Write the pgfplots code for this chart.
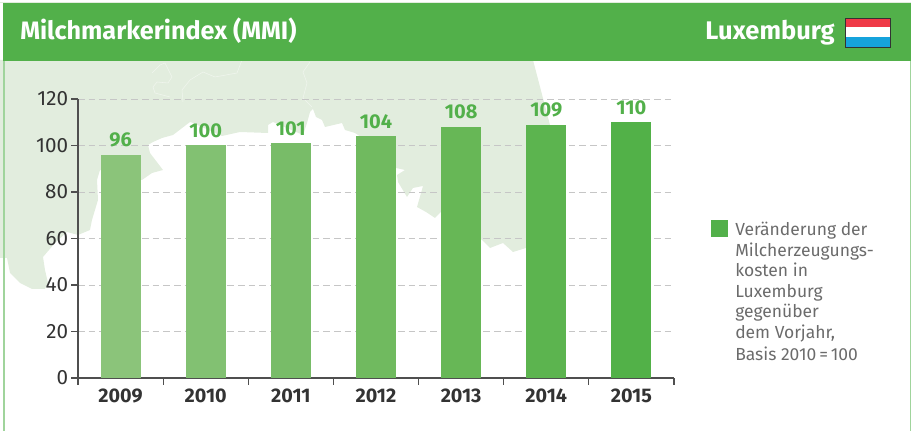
\documentclass[border=0pt]{standalone}
\usepackage{pgfplots}
\pgfplotsset{compat=1.18}
\usepackage{fontspec}
\setmainfont{Fira Sans}
\definecolor{hdr}{HTML}{52B04A}
\definecolor{mapc}{HTML}{E2EDDE}
\definecolor{axisc}{HTML}{4F4F4F}
\definecolor{gridc}{HTML}{C6C6C6}
\definecolor{tickt}{HTML}{333333}
\definecolor{legt}{HTML}{6B6B6B}
\definecolor{bara}{HTML}{8BC47A}
\definecolor{barb}{HTML}{82C172}
\definecolor{barc}{HTML}{78BC68}
\definecolor{bard}{HTML}{70BA5F}
\definecolor{bare}{HTML}{67B756}
\definecolor{barf}{HTML}{5CB44F}
\definecolor{barg}{HTML}{52B148}
\begin{document}
\begin{tikzpicture}
\path[use as bounding box] (0,0) rectangle (683.25pt,323.25pt);
\begin{scope}[shift={(0,323.25pt)},x=0.75pt,y=-0.75pt]
\fill[mapc] (0,60) -- (533,60) -- (550,125) -- (560,180) -- (526,248) -- (513,252) -- (503,243) -- (490,248) -- (482,240)
 -- (460,225) -- (445,208) -- (435,218) -- (426,212) -- (417,207) -- (423,186) -- (413,188) -- (407,197) -- (398,182) -- (397,175) -- (405,170) -- (396,168)
 -- (380,150) -- (355,133) -- (345,130) -- (342,123) -- (325,127) -- (322,120) -- (316,117) -- (313,109) -- (310,112) -- (307,123) -- (303,135)
 -- (273,122) -- (268,125) -- (268,133) -- (240,132) -- (222,136) -- (193,123) -- (190,122) -- (173,135) -- (162,138) -- (153,142) -- (148,145) -- (150,153)
 -- (163,170) -- (152,173) -- (142,180) -- (120,176) -- (100,170) -- (97,180) -- (98,200) -- (92,220) -- (90,230) -- (78,235) -- (67,232) -- (55,243) -- (43,257)
 -- (45,270) -- (48,283) -- (45,289) -- (32,289) -- (20,283) -- (10,273) -- (7,258) -- (0,258) -- cycle;
\draw[white,opacity=0.5,line width=0.4pt] (152,73) -- (160,65) -- (165,63) -- (172,77) -- (168,83) -- (157,82) -- (153,87) -- (155,93) -- (170,97);
\draw[white,opacity=0.5,line width=0.4pt] (183,102) -- (182,90) -- (190,80) -- (203,72) -- (215,77) -- (237,73) -- (242,60);
\draw[white,opacity=0.5,line width=0.4pt] (310,62) -- (303,72) -- (307,83) -- (303,98) -- (312,107);
\fill[hdr] (3,3.5) rectangle (911,61);
\fill[hdr!55] (3,61) rectangle (4.6,431);
\fill[hdr!55] (909.6,61) rectangle (911,431);
\fill[mapc] (0,2.5) rectangle (911,3.5);
\node[anchor=base west,text=white,font=\bfseries\fontsize{18.9pt}{19pt}\selectfont,inner sep=0pt] at (20,40) {Milchmarkerindex (MMI)};
\node[anchor=base east,text=white,font=\bfseries\fontsize{19.1pt}{19pt}\selectfont,inner sep=0pt] at (835,40) {Luxemburg};
\fill[white] (845,18) rectangle (890,47);
\fill[fill={rgb,255:red,239;green,58;blue,71}] (845,18) rectangle (890,27.5);
\fill[fill={rgb,255:red,22;green,163;blue,220}] (845,37) rectangle (890,47);
\draw[black!80,line width=0.6pt] (845,18) rectangle (890,47);
\fill[hdr] (711,220) rectangle (728,237);
\foreach \t/\y in {Veränderung der/236,Milcherzeugungs-/257,kosten in/277,Luxemburg/298,gegenüber/318,{dem Vorjahr,}/339,Basis 2010\,=\,100/361}{
  \node[anchor=base west,text=legt,font=\fontsize{13.1pt}{14pt}\selectfont,inner sep=0pt] at (735,\y) {\t};
}
\end{scope}
\begin{axis}[
  at={(58.5pt,39.75pt)},anchor=south west,
  scale only axis,width=447pt,height=209.25pt,
  xmin=0,xmax=7,ymin=0,ymax=120,
  axis lines=left,axis line style={-,draw=axisc,line width=1.2pt},
  tick align=outside,
  major tick length=5.25pt,minor tick length=5.25pt,
  every tick/.style={draw=axisc,line width=0.8pt},
  major x tick style={draw=none},
  xtick={0.5,1.5,2.5,3.5,4.5,5.5,6.5},
  xticklabels={2009,2010,2011,2012,2013,2014,2015},
  minor xtick={0,1,2,3,4,5,6,7},
  ytick={0,20,40,60,80,100,120},
  ymajorgrids,
  grid style={draw=gridc,line width=0.7pt,dash pattern=on 5pt off 3pt},
  /pgf/number format/assume math mode=true,
  yticklabel style={text=tickt,font=\fontsize{15.5pt}{15.5pt}\selectfont,inner sep=2pt},
  xticklabel style={text=tickt,font=\bfseries\fontsize{14.8pt}{15pt}\selectfont,inner sep=2pt,yshift=-1pt},
  ybar,bar width=30pt,bar shift=0pt,
  nodes near coords,
  nodes near coords style={text=hdr,font=\bfseries\fontsize{15pt}{15pt}\selectfont,inner sep=2pt,yshift=3.5pt},
  every axis plot/.append style={draw=none},
]
\addplot[fill=bara] coordinates {(0.5,96)};
\addplot[fill=barb] coordinates {(1.5,100)};
\addplot[fill=barc] coordinates {(2.5,101)};
\addplot[fill=bard] coordinates {(3.5,104)};
\addplot[fill=bare] coordinates {(4.5,108)};
\addplot[fill=barf] coordinates {(5.5,109)};
\addplot[fill=barg] coordinates {(6.5,110)};
\end{axis}
\end{tikzpicture}
\end{document}
